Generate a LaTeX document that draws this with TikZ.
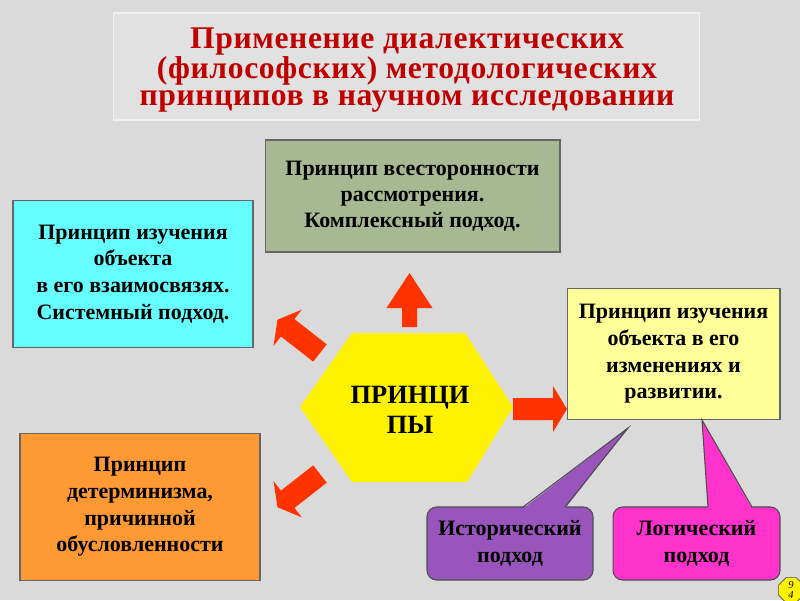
\documentclass[tikz,border=0pt]{standalone}
\usepackage{fontspec}
\setmainfont{Liberation Serif}
\newfontfamily\spacedserif[LetterSpace=2]{Liberation Serif}
\usetikzlibrary{shapes.geometric}
\definecolor{bg}{RGB}{218,218,218}
\definecolor{titlered}{RGB}{192,0,0}
\definecolor{sage}{RGB}{168,184,146}
\definecolor{boxcyan}{RGB}{102,255,255}
\definecolor{boxorange}{RGB}{255,153,51}
\definecolor{paleyellow}{RGB}{255,255,153}
\definecolor{arrowred}{RGB}{255,51,0}
\definecolor{histviolet}{RGB}{153,85,187}
\definecolor{logicpink}{RGB}{255,51,204}
\begin{document}
\begin{tikzpicture}[x=0.02cm, y=-0.02cm,
  box/.style={draw=black!60, line width=0.6pt, align=center, inner sep=0pt, font=\bfseries\fontsize{12.5}{15.2}\selectfont},
  callout/.style={box, draw=black!70, rounded corners=5.5pt, minimum height=1.46cm},
  tailline/.style={draw=black!70, line width=0.6pt, line join=miter}]
\path[use as bounding box, fill=bg] (0,0) rectangle (800,600);
\node[box, fill=bg!80!white, draw=white!94!black, minimum width=11.74cm, minimum height=2.14cm] (titleframe) at (406.5,66.5) {};
\node[align=center, text=titlered, font=\spacedserif\bfseries\fontsize{18}{15.6}\selectfont] (title) at (407,70)
  {Применение диалектических\\(философских) методологических\\принципов в научном исследовании};
\node[box, fill=sage, minimum width=5.9cm, minimum height=2.24cm, font=\bfseries\fontsize{12.5}{14.7}\selectfont] (whole) at (412.5,196)
  {Принцип всесторонности\\рассмотрения.\\Комплексный подход.};
\node[box, fill=boxcyan, minimum width=4.8cm, minimum height=2.94cm] (system) at (133,274)
  {Принцип изучения\\объекта\\в его взаимосвязях.\\Системный подход.};
\node[box, fill=boxorange, minimum width=4.8cm, minimum height=2.94cm] (determ) at (140,507)
  {Принцип\\детерминизма,\\причинной\\обусловленности};
\node[box, fill=paleyellow, minimum width=4.26cm, minimum height=2.62cm] (develop) at (673.5,354)
  {Принцип изучения\\объекта в его\\изменениях и\\развитии.};
\fill[yellow] (300,407)--(352,333)--(465,333)--(513,407)--(467,482)--(352,482)--cycle;
\node[font=\bfseries\fontsize{15}{17}\selectfont, align=center] (center) at (410,410) {ПРИНЦИ\\ПЫ};
\foreach \x/\y/\a/\s/\w in {409.5/327/90/19/7.5, 513/409/0/40/11, 320/353/142/41/11, 320/474/218/41/11}
{
    \fill[arrowred, shift={(\x,\y)}, rotate=\a] (0,-\w)--(\s,-\w)--(\s,-23)--(54,0)--(\s,23)--(\s,\w)--(0,\w)--cycle;
}
\node[callout, fill=histviolet, minimum width=3.32cm] (hist) at (510,543.5) {Исторический\\подход};
\node[callout, fill=logicpink, minimum width=3.34cm] (logic) at (696.5,543.5) {Логический\\подход};
\coordinate (histtip) at (628,428);
\coordinate (logictip) at (702,420);
\fill[histviolet] (523,508.5)--(histtip)--(565,508.5)--cycle;
\draw[tailline] (523,507)--(histtip)--(565,507);
\fill[logicpink] (708,508.5)--(logictip)--(752,508.5)--cycle;
\draw[tailline] (708,507)--(logictip)--(752,507);
\node[regular polygon, regular polygon sides=8, fill=yellow, draw=black!70, minimum size=0.48cm, inner sep=0pt,
  font=\itshape\fontsize{6}{6}\selectfont, align=center] (pagenum) at (791,590) {9\\4};
\end{tikzpicture}
\end{document}
